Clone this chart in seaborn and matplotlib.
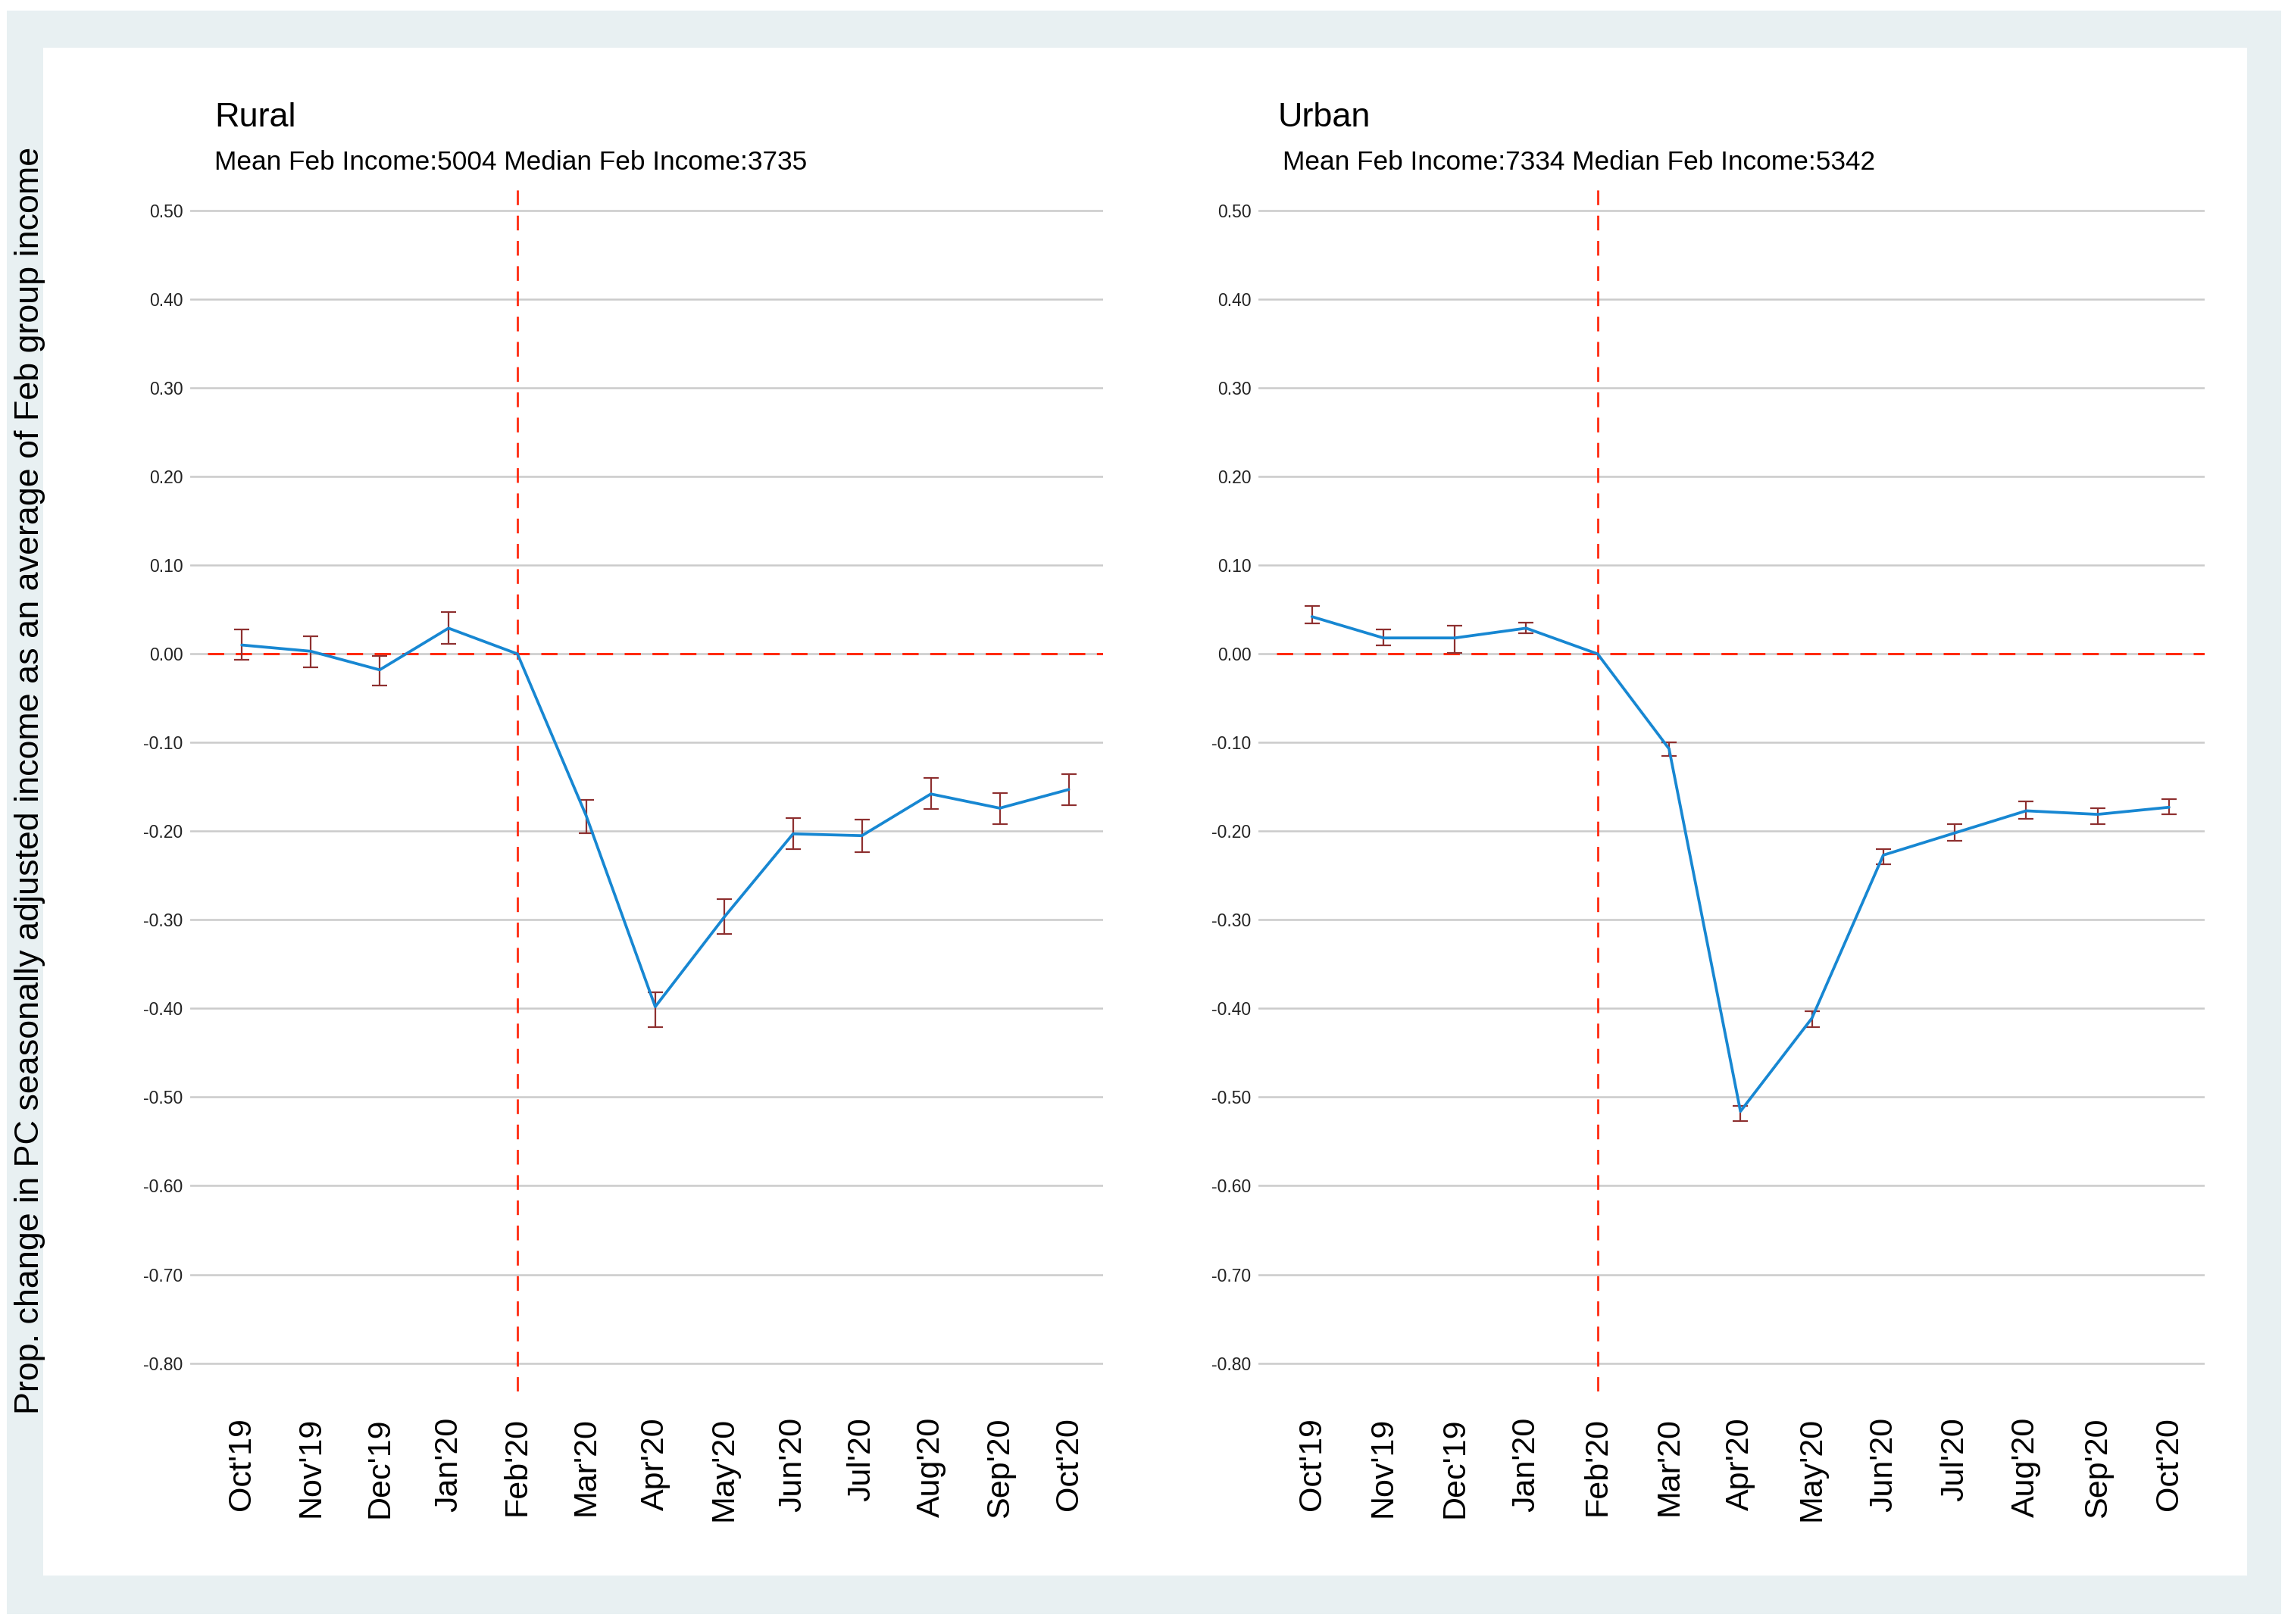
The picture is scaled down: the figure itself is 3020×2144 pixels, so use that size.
import matplotlib
matplotlib.use("Agg")
import matplotlib.pyplot as plt
import numpy as np
import pandas as pd
import seaborn as sns
from matplotlib.patches import Rectangle

# ---- data ----
months = ["Oct'19", "Nov'19", "Dec'19", "Jan'20", "Feb'20", "Mar'20", "Apr'20",
          "May'20", "Jun'20", "Jul'20", "Aug'20", "Sep'20", "Oct'20"]

rural_mean = [0.010, 0.003, -0.018, 0.029, 0.000, -0.183, -0.398, -0.297, -0.203, -0.205, -0.158, -0.174, -0.153]
rural_lo = [-0.007, -0.015, -0.036, 0.011, np.nan, -0.202, -0.421, -0.316, -0.220, -0.224, -0.175, -0.192, -0.171]
rural_hi = [0.028, 0.020, -0.002, 0.047, np.nan, -0.165, -0.382, -0.277, -0.185, -0.187, -0.140, -0.157, -0.136]

urban_mean = [0.042, 0.018, 0.018, 0.029, 0.000, -0.107, -0.516, -0.411, -0.227, -0.202, -0.177, -0.181, -0.173]
urban_lo = [0.034, 0.010, 0.001, 0.023, np.nan, -0.115, -0.527, -0.421, -0.237, -0.211, -0.186, -0.192, -0.181]
urban_hi = [0.054, 0.028, 0.032, 0.035, np.nan, -0.100, -0.510, -0.403, -0.220, -0.192, -0.166, -0.174, -0.164]

y_ticks = [0.50, 0.40, 0.30, 0.20, 0.10, 0.00, -0.10, -0.20, -0.30, -0.40, -0.50, -0.60, -0.70, -0.80]

panel_titles = ["Rural", "Urban"]
panel_subtitles = ["Mean Feb Income:5004 Median Feb Income:3735",
                   "Mean Feb Income:7334 Median Feb Income:5342"]
y_label = "Prop. change in PC seasonally adjusted income as an average of Feb group income"

# ---- styling ----
sns.set_theme(style="white")
plt.rcParams["font.family"] = ["Liberation Sans", "DejaVu Sans"]

LINE_BLUE = "#1787d2"
ERR_RED = "#8e3030"
REF_RED = "#ff2a10"
GRID_GRAY = "#cbcbcb"
FRAME_GRAY = "#e8f0f2"

W, H = 3020, 2144
fig = plt.figure(figsize=(W / 100, H / 100), dpi=100, facecolor="white")

# outer light frame + white inner panel
fig.patches.append(Rectangle((9 / W, 13 / H), 3002 / W, 2117 / H, transform=fig.transFigure,
                             facecolor=FRAME_GRAY, edgecolor="none", zorder=-20))
fig.patches.append(Rectangle((57 / W, 64 / H), 2909 / W, 2017 / H, transform=fig.transFigure,
                             facecolor="white", edgecolor="none", zorder=-19))

ax_bottom = (H - 1837) / H
ax_height = 1594 / H
ax_left = fig.add_axes([251 / W, ax_bottom, 1205 / W, ax_height])
ax_right = fig.add_axes([1661 / W, ax_bottom, 1249 / W, ax_height])

x = np.arange(len(months))
panels = [
    (ax_left, rural_mean, rural_lo, rural_hi),
    (ax_right, urban_mean, urban_lo, urban_hi),
]

for ax, mean, lo, hi in panels:
    df = pd.DataFrame({"x": x, "mean": mean, "lo": lo, "hi": hi})
    ax.set_facecolor("none")

    # reference lines
    feb_idx = months.index("Feb'20")
    ax.axvline(feb_idx, color=REF_RED, lw=2.0, dashes=(7, 5), zorder=2)
    ax.hlines(0, -0.5, 12.5, color=REF_RED, lw=2.2, linestyles=(0, (7, 5)), zorder=2)

    # confidence bars
    eb = df.dropna()
    ax.errorbar(eb["x"], eb["mean"], yerr=[eb["mean"] - eb["lo"], eb["hi"] - eb["mean"]],
                fmt="none", ecolor=ERR_RED, elinewidth=1.6, capsize=7, capthick=1.6, zorder=3)

    sns.lineplot(data=df, x="x", y="mean", ax=ax, color=LINE_BLUE, lw=2.7, zorder=4)

    ax.set_xlim(-0.75, 12.5)
    ax.set_ylim(-0.832, 0.53)
    ax.set_yticks(y_ticks)
    ax.set_yticklabels([f"{v:.2f}" for v in y_ticks], fontsize=16.5, color="#222222")
    ax.set_xticks(x)
    ax.set_xticklabels(months, rotation=90, fontsize=31, color="black")
    ax.tick_params(axis="y", length=0, pad=7)
    ax.tick_params(axis="x", length=16.5, width=1.4, color="#c4c4c4", pad=8, direction="out")
    ax.yaxis.grid(True, color=GRID_GRAY, lw=1.8)
    ax.xaxis.grid(False)
    ax.set_axisbelow(True)
    ax.set_xlabel("")
    ax.set_ylabel("")
    for s in ax.spines.values():
        s.set_visible(False)

# panel titles
title_x = [283 / W, 1686 / W]
sub_x = [283 / W, 1693 / W]
for tx, sx, t, st in zip(title_x, sub_x, panel_titles, panel_subtitles):
    fig.text(tx, (H - 167) / H, t, fontsize=32.4, va="baseline", ha="left", color="black")
    fig.text(sx, (H - 224) / H, st, fontsize=25.4, va="baseline", ha="left", color="black")

fig.text(40 / W, (H - 1030) / H, y_label, rotation=90, va="center", ha="center",
         fontsize=32.3, color="black")

fig.savefig("out.png", dpi=100, facecolor="white")
